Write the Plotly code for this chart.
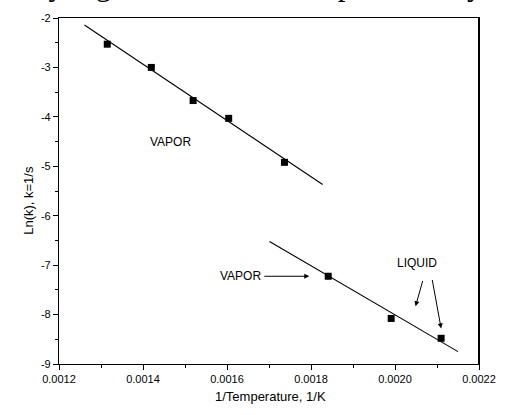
import plotly.graph_objects as go

# Data
vapor_x = [0.0013149, 0.0014198, 0.0015193, 0.001604, 0.0017368]
vapor_y = [-2.53, -3.00, -3.67, -4.03, -4.92]
fit1_x = [0.0012606, 0.0018277]
fit1_y = [-2.14, -5.37]

low_x = [0.001841, 0.0019909, 0.0021098]
low_y = [-7.225, -8.078, -8.48]
fit2_x = [0.0017012, 0.00215]
fit2_y = [-6.52, -8.75]

x_tick_vals = [0.0012, 0.0014, 0.0016, 0.0018, 0.0020, 0.0022]
x_tick_text = ["0.0012", "0.0014", "0.0016", "0.0018", "0.0020", "0.0022"]
y_tick_vals = [-2, -3, -4, -5, -6, -7, -8, -9]
y_tick_text = ["-2", "-3", "-4", "-5", "-6", "-7", "-8", "-9"]

FONT = "Liberation Sans, Arial, sans-serif"

fig = go.Figure()
fig.add_trace(go.Scatter(x=fit1_x, y=fit1_y, mode="lines",
                         line=dict(color="black", width=1.1), showlegend=False))
fig.add_trace(go.Scatter(x=fit2_x, y=fit2_y, mode="lines",
                         line=dict(color="black", width=1.1), showlegend=False))
fig.add_trace(go.Scatter(x=vapor_x, y=vapor_y, mode="markers",
                         marker=dict(symbol="square", size=7, color="black"),
                         showlegend=False))
fig.add_trace(go.Scatter(x=low_x, y=low_y, mode="markers",
                         marker=dict(symbol="square", size=7, color="black"),
                         showlegend=False))

annotations = [
    dict(x=0.0014664, y=-4.516, xref="x", yref="y", text="VAPOR", showarrow=False,
         font=dict(family=FONT, size=12, color="black")),
    dict(x=0.0016854, y=-7.225, xref="x", yref="y", text="VAPOR", showarrow=False,
         xanchor="right", font=dict(family=FONT, size=12, color="black")),
    dict(x=0.0020531, y=-6.957, xref="x", yref="y", text="LIQUID", showarrow=False,
         font=dict(family=FONT, size=12, color="black")),
    # arrows
    dict(x=0.0017959, y=-7.225, ax=0.0016854, ay=-7.225, xref="x", yref="y",
         axref="x", ayref="y", text="", showarrow=True, arrowhead=2,
         arrowsize=1, arrowwidth=1, arrowcolor="black"),
    dict(x=0.0020490, y=-7.83, ax=0.0020669, ay=-7.29, xref="x", yref="y",
         axref="x", ayref="y", text="", showarrow=True, arrowhead=2,
         arrowsize=1, arrowwidth=1, arrowcolor="black"),
    dict(x=0.0021098, y=-8.28, ax=0.0020881, ay=-7.27, xref="x", yref="y",
         axref="x", ayref="y", text="", showarrow=True, arrowhead=2,
         arrowsize=1, arrowwidth=1, arrowcolor="black"),
    # axis titles
    dict(x=-0.0956, y=0.4726, xref="paper", yref="paper", text="Ln(k), k=1/s",
         textangle=-90, showarrow=False, font=dict(family=FONT, size=13, color="black")),
    dict(x=0.5035, y=-0.122, xref="paper", yref="paper", text="1/Temperature, 1/K",
         showarrow=False, font=dict(family=FONT, size=13, color="black")),
    # cropped page text at the top
    dict(x=0.4545, y=1.040, xref="paper", yref="paper",
         text="ively high value and corresponds to hyd",
         showarrow=False, yanchor="bottom",
         font=dict(family="Liberation Serif, Times New Roman, serif", size=31, color="black")),
]

fig.update_layout(
    width=508, height=415,
    margin=dict(l=59, r=20, t=17, b=51),
    paper_bgcolor="white", plot_bgcolor="white",
    annotations=annotations,
    font=dict(family=FONT, size=11, color="black"),
)
fig.update_xaxes(range=[0.0012, 0.0022], tickvals=x_tick_vals, ticktext=x_tick_text,
                 ticks="outside", ticklen=5, tickwidth=1, tickcolor="black",
                 minor=dict(dtick=0.0001, ticks="outside", ticklen=3, tickcolor="black"),
                 showline=True, linecolor="black", linewidth=1.2, mirror=True,
                 showgrid=False, zeroline=False, tickfont=dict(size=11))
fig.update_yaxes(range=[-9, -2], tickvals=y_tick_vals, ticktext=y_tick_text,
                 ticks="outside", ticklen=5, tickwidth=1, tickcolor="black",
                 minor=dict(dtick=0.5, ticks="outside", ticklen=3, tickcolor="black"),
                 showline=True, linecolor="black", linewidth=1.2, mirror=True,
                 showgrid=False, zeroline=False, tickfont=dict(size=11))
fig.add_shape(type="line", xref="paper", yref="paper", x0=1, x1=1, y0=0, y1=1,
              line=dict(color="black", width=2))

fig.write_html("out.html", config={"displayModeBar": False},
               post_script="document.body.style.margin='0';document.body.style.overflow='hidden';")
